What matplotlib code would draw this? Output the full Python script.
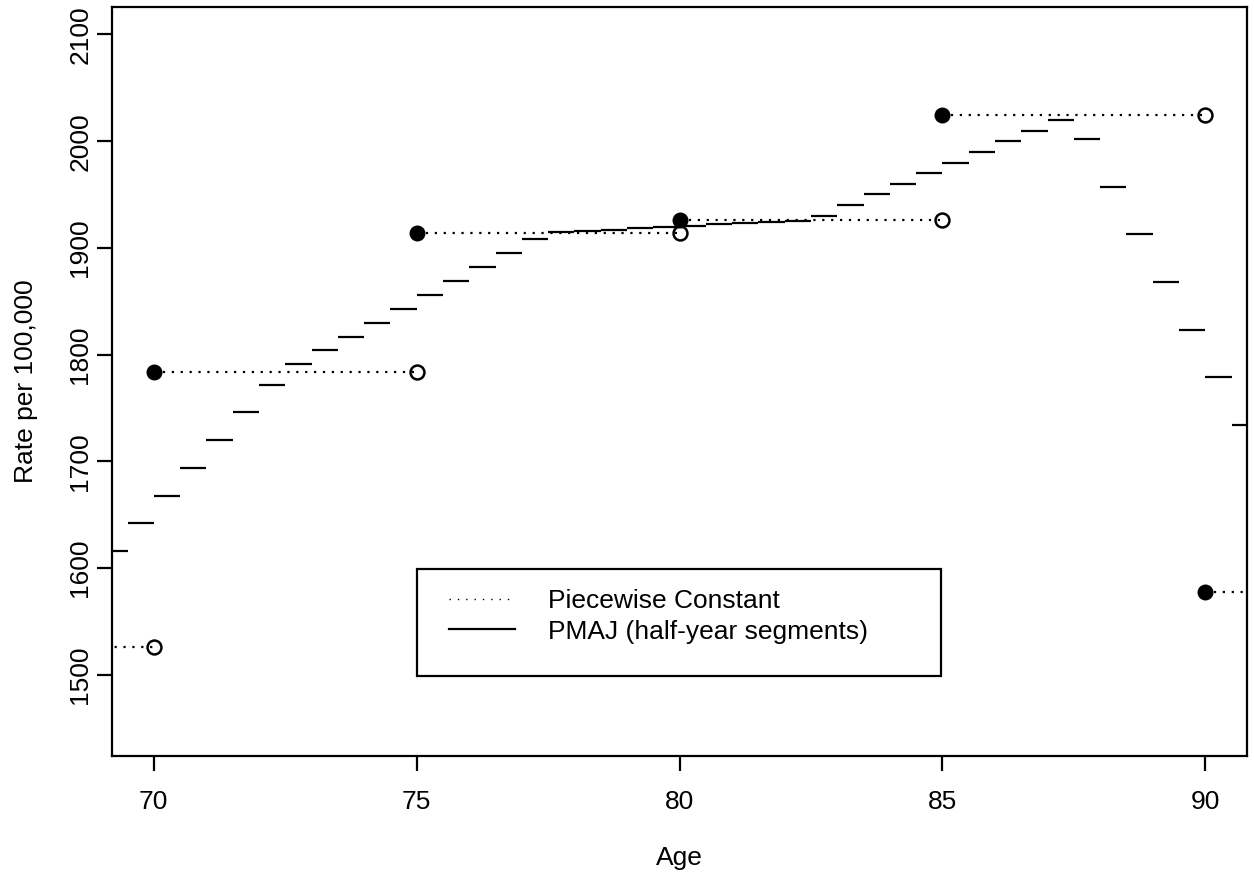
import matplotlib.pyplot as plt
import numpy as np
from matplotlib.lines import Line2D
from matplotlib.patches import Rectangle

# piecewise constant rates on 5-year age bands
pc_start = [65, 70, 75, 80, 85, 90]
pc_end = [70, 75, 80, 85, 90, 95]
pc_rate = [1526, 1784, 1914, 1926, 2025, 1578]

# PMAJ half-year segments (start age of each half year)
pmaj_age = np.arange(69.0, 91.0, 0.5)
pmaj_rate = [1616.5, 1642, 1668, 1694, 1720, 1746, 1772, 1791, 1804, 1817,
             1830, 1843, 1856, 1869, 1882, 1895, 1908, 1914.5, 1915.5, 1917,
             1918.5, 1919.5, 1920.5, 1922, 1923, 1924, 1925, 1930, 1940.5, 1950.5,
             1960, 1970, 1980, 1990, 2000, 2010, 2019.5, 2002, 1957, 1913,
             1868, 1823.5, 1779, 1734]

x_ticks = [70, 75, 80, 85, 90]
y_ticks = [1500, 1600, 1700, 1800, 1900, 2000, 2100]


def main():
    plt.rcParams['font.family'] = ['Liberation Sans', 'DejaVu Sans']
    fs = 19

    fig = plt.figure(figsize=(12.54, 8.73), dpi=100)
    ax = fig.add_axes([0.0891, 0.134, 0.9056, 0.8583])

    dots = (0, (1, 3))
    lw = 1.6

    # PMAJ segments
    ax.hlines(pmaj_rate, pmaj_age, pmaj_age + 0.5, colors='black', linewidth=lw)

    # piecewise constant: dotted line, filled start, open end
    for x0, x1, r in zip(pc_start, pc_end, pc_rate):
        ax.plot([x0, x1], [r, r], color='black', linestyle=dots, linewidth=lw)
    ax.plot(pc_start, pc_rate, 'o', color='black', markersize=11.5, markeredgewidth=0)
    ax.plot(pc_end, pc_rate, 'o', markerfacecolor='none', markeredgecolor='black',
            markersize=10, markeredgewidth=1.8)

    # R style axis ranges (4% padding around 70-90 and 1450-2100)
    ax.set_xlim(69.2, 90.8)
    ax.set_ylim(1424, 2126)

    ax.set_xticks(x_ticks)
    ax.set_yticks(y_ticks)
    ax.tick_params(direction='out', length=10.6, width=lw, labelsize=fs)
    ax.tick_params(axis='x', pad=14)
    ax.tick_params(axis='y', pad=3.5)
    for lab in ax.get_yticklabels():
        lab.set_rotation(90)
        lab.set_va('center')
    for s in ax.spines.values():
        s.set_linewidth(lw)

    ax.set_xlabel('Age', fontsize=fs, va='baseline')
    ax.xaxis.set_label_coords(0.5, -0.1455)
    ax.set_ylabel('Rate per 100,000', fontsize=fs, va='baseline')
    ax.yaxis.set_label_coords(-0.069, 0.5)

    # legend with an R style box
    ax.add_patch(Rectangle((0.2691, 0.1068), 0.4612, 0.1424, transform=ax.transAxes,
                           fill=False, edgecolor='black', linewidth=lw, zorder=5))
    handles = [Line2D([], [], color='black', linestyle=(0, (1, 5)), linewidth=1.0),
               Line2D([], [], color='black', linewidth=lw)]
    ax.legend(handles, ['Piecewise Constant', 'PMAJ (half-year segments)'],
              loc='upper left', bbox_to_anchor=(0.297, 0.223), frameon=False,
              borderpad=0, borderaxespad=0, handlelength=2.5, handletextpad=1.25,
              labelspacing=0.25, fontsize=fs)

    plt.savefig('out.png', dpi=100)


if __name__ == "__main__":
    main()
